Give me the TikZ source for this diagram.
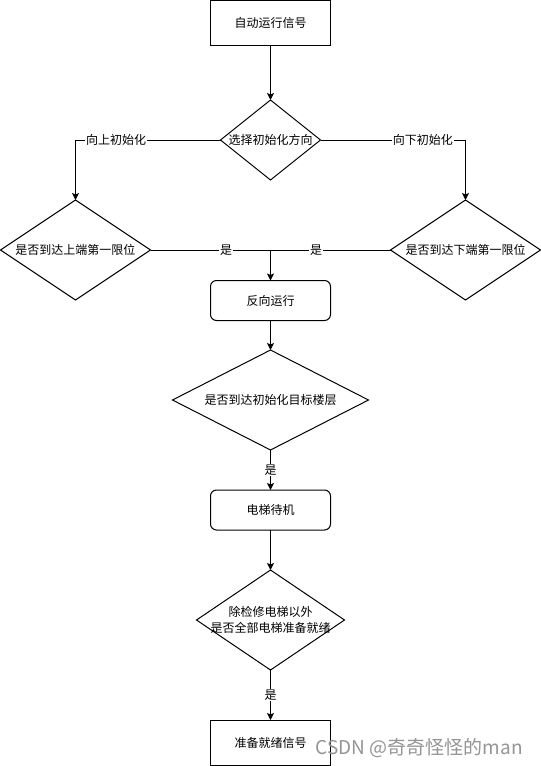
\documentclass[tikz,border=0pt]{standalone}
\usepackage{fontspec}
\setmainfont{Noto Sans CJK SC}
\usetikzlibrary{shapes.geometric,arrows.meta}
\begin{document}
\begin{tikzpicture}[x=1pt,y=-1pt,
  every node/.style={font=\fontsize{12}{15}\selectfont},
  box/.style={draw, line width=1pt, minimum width=120pt, minimum height=45pt, inner sep=0pt, outer sep=0pt},
  rbox/.style={box, rounded corners=6pt, minimum height=40pt},
  dia/.style={draw, diamond, line width=1pt, inner sep=0pt, outer sep=0pt},
  arr/.style={-{Stealth[length=7pt,width=7pt,inset=1.5pt]}, line width=1pt},
  ln/.style={line width=1pt},
  lbl/.style={fill=white, inner sep=1pt}]
\useasboundingbox (0,0) rectangle (541,766);

\node[box] (start) at (270.5,23) {自动运行信号};
\node[dia, minimum width=100pt, minimum height=80pt, label={center:选择初始化方向}] (d1) at (270.5,140) {};
\node[dia, minimum width=150pt, minimum height=100pt, label={center:是否到达上端第一限位}] (dl) at (75.5,250) {};
\node[dia, minimum width=150pt, minimum height=100pt, label={center:是否到达下端第一限位}] (dr) at (465.5,250) {};
\coordinate (j) at (270.5,250);
\node[rbox] (rev) at (270.5,300.5) {反向运行};
\node[dia, minimum width=196pt, minimum height=100pt, label={center:是否到达初始化目标楼层}] (d3) at (270.5,400) {};
\node[rbox] (wait) at (270.5,510) {电梯待机};
\node[dia, minimum width=148pt, minimum height=100pt, label={[align=center, font=\fontsize{12}{15.5}\selectfont]center:除检修电梯以外\\是否全部电梯准备就绪}] (d4) at (270.5,620) {};
\node[box] (ready) at (270.5,742.5) {准备就绪信号};

\draw[arr] (start) -- (d1);
\draw[arr] (d1.west) -| node[lbl, pos=0.36] (lu) {向上初始化} (dl.north);
\draw[arr] (d1.east) -| node[lbl, pos=0.353] (ld) {向下初始化} (dr.north);
\draw[ln] (dl.east) -- node[lbl, pos=0.63] (y1) {是} (j);
\draw[ln] (dr.west) -- node[lbl, pos=0.62] (y2) {是} (j);
\draw[arr] (j) -- (rev);
\draw[arr] (rev) -- (d3);
\draw[arr] (d3.south) -- node[lbl, pos=0.5] (y3) {是} (wait.north);
\draw[arr] (wait) -- (d4);
\draw[arr] (d4.south) -- node[lbl, pos=0.5] (y4) {是} (ready.north);

\node[anchor=east, text=black!42, font=\fontsize{19}{22}\selectfont, inner sep=0pt] (wm) at (523,748) {CSDN @奇奇怪怪的man};
\end{tikzpicture}
\end{document}
